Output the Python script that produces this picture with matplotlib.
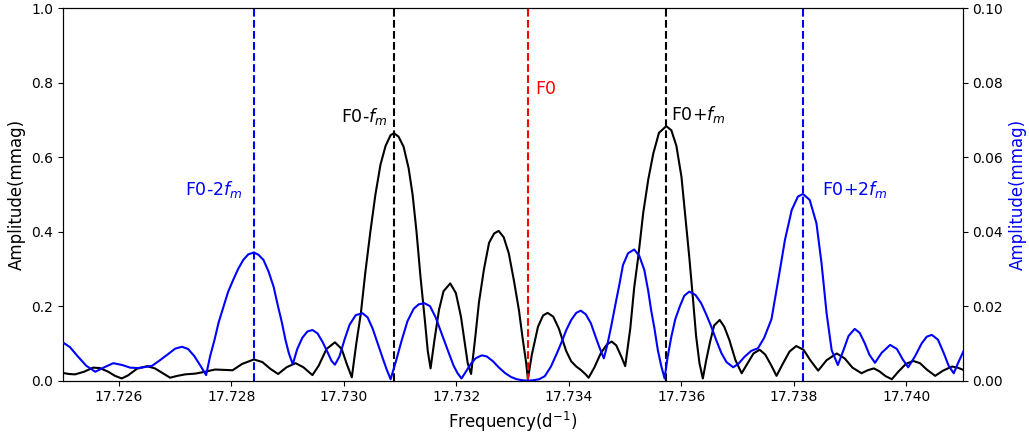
import matplotlib
matplotlib.use("Agg")
import matplotlib.pyplot as plt
from matplotlib.ticker import ScalarFormatter, MultipleLocator

# Black spectrum (left axis, mmag)
freq_black = [17.72500, 17.72511, 17.72522, 17.72538, 17.72554, 17.72566, 17.72581, 17.72593,
              17.72605, 17.72616, 17.72632, 17.72650, 17.72664, 17.72679, 17.72691, 17.72704,
              17.72718, 17.72736, 17.72753, 17.72771, 17.72786, 17.72802, 17.72819, 17.72840,
              17.72855, 17.72869, 17.72883, 17.72898, 17.72914, 17.72928, 17.72944, 17.72955,
              17.72969, 17.72984, 17.72996, 17.73005, 17.73014, 17.73022, 17.73030, 17.73038,
              17.73047, 17.73056, 17.73065, 17.73074, 17.73083, 17.73089, 17.73097, 17.73106,
              17.73115, 17.73122, 17.73129, 17.73136, 17.73144, 17.73149, 17.73154, 17.73161,
              17.73169, 17.73177, 17.73189, 17.73199, 17.73208, 17.73215, 17.73220, 17.73226,
              17.73233, 17.73240, 17.73249, 17.73258, 17.73267, 17.73275, 17.73284, 17.73293,
              17.73302, 17.73311, 17.73318, 17.73324, 17.73327, 17.73334, 17.73345, 17.73354,
              17.73362, 17.73372, 17.73382, 17.73395, 17.73404, 17.73413, 17.73421, 17.73429,
              17.73435, 17.73445, 17.73457, 17.73468, 17.73476, 17.73484, 17.73493, 17.73500,
              17.73509, 17.73516, 17.73523, 17.73532, 17.73541, 17.73550, 17.73560, 17.73573,
              17.73582, 17.73591, 17.73600, 17.73607, 17.73614, 17.73621, 17.73626, 17.73632,
              17.73638, 17.73644, 17.73651, 17.73658, 17.73668, 17.73676, 17.73685, 17.73696,
              17.73707, 17.73717, 17.73728, 17.73739, 17.73749, 17.73760, 17.73769, 17.73780,
              17.73792, 17.73804, 17.73817, 17.73829, 17.73843, 17.73858, 17.73876, 17.73890,
              17.73904, 17.73920, 17.73931, 17.73942, 17.73952, 17.73963, 17.73974, 17.73986,
              17.73999, 17.74012, 17.74024, 17.74036, 17.74051, 17.74065, 17.74081, 17.74091,
              17.74101]
amp_black = [0.021, 0.018, 0.017, 0.024, 0.035, 0.034, 0.024, 0.013,
             0.006, 0.014, 0.032, 0.039, 0.033, 0.019, 0.008, 0.013,
             0.017, 0.019, 0.024, 0.030, 0.029, 0.028, 0.045, 0.057,
             0.050, 0.032, 0.018, 0.036, 0.047, 0.036, 0.015, 0.040,
             0.085, 0.103, 0.085, 0.045, 0.009, 0.100, 0.180, 0.290,
             0.400, 0.500, 0.580, 0.630, 0.659, 0.664, 0.655, 0.628,
             0.570, 0.500, 0.400, 0.280, 0.160, 0.080, 0.033, 0.110,
             0.190, 0.240, 0.261, 0.235, 0.172, 0.100, 0.047, 0.018,
             0.110, 0.210, 0.300, 0.370, 0.395, 0.402, 0.385, 0.342,
             0.270, 0.190, 0.110, 0.047, 0.004, 0.070, 0.145, 0.175,
             0.182, 0.172, 0.140, 0.080, 0.052, 0.038, 0.029, 0.018,
             0.008, 0.035, 0.075, 0.098, 0.105, 0.095, 0.065, 0.039,
             0.140, 0.250, 0.330, 0.450, 0.540, 0.610, 0.665, 0.683,
             0.672, 0.630, 0.547, 0.440, 0.330, 0.210, 0.120, 0.047,
             0.006, 0.055, 0.105, 0.148, 0.163, 0.145, 0.110, 0.055,
             0.020, 0.045, 0.073, 0.083, 0.070, 0.040, 0.013, 0.045,
             0.078, 0.093, 0.083, 0.055, 0.027, 0.055, 0.073, 0.060,
             0.035, 0.020, 0.028, 0.033, 0.025, 0.012, 0.004, 0.025,
             0.045, 0.053, 0.047, 0.030, 0.013, 0.027, 0.038, 0.035,
             0.029]

# Blue spectrum (right axis, mmag)
freq_blue = [17.72500, 17.72513, 17.72527, 17.72542, 17.72558, 17.72574, 17.72590, 17.72606,
             17.72620, 17.72634, 17.72648, 17.72659, 17.72673, 17.72688, 17.72700, 17.72712,
             17.72723, 17.72734, 17.72745, 17.72755, 17.72762, 17.72770, 17.72777, 17.72786,
             17.72794, 17.72803, 17.72812, 17.72821, 17.72830, 17.72840, 17.72848, 17.72857,
             17.72866, 17.72875, 17.72882, 17.72890, 17.72896, 17.72902, 17.72909, 17.72917,
             17.72926, 17.72935, 17.72944, 17.72953, 17.72962, 17.72971, 17.72978, 17.72984,
             17.72992, 17.73001, 17.73010, 17.73021, 17.73033, 17.73042, 17.73051, 17.73060,
             17.73069, 17.73076, 17.73083, 17.73092, 17.73103, 17.73113, 17.73124, 17.73133,
             17.73143, 17.73153, 17.73163, 17.73174, 17.73185, 17.73195, 17.73202, 17.73209,
             17.73217, 17.73226, 17.73234, 17.73245, 17.73254, 17.73265, 17.73275, 17.73286,
             17.73297, 17.73307, 17.73318, 17.73327, 17.73336, 17.73347, 17.73357, 17.73368,
             17.73379, 17.73386, 17.73395, 17.73404, 17.73413, 17.73421, 17.73430, 17.73439,
             17.73448, 17.73454, 17.73462, 17.73468, 17.73475, 17.73482, 17.73490, 17.73496,
             17.73505, 17.73516, 17.73525, 17.73534, 17.73541, 17.73546, 17.73552, 17.73558,
             17.73564, 17.73570, 17.73575, 17.73582, 17.73589, 17.73597, 17.73605, 17.73614,
             17.73625, 17.73635, 17.73644, 17.73653, 17.73662, 17.73671, 17.73680, 17.73692,
             17.73701, 17.73712, 17.73724, 17.73736, 17.73747, 17.73760, 17.73772, 17.73784,
             17.73796, 17.73807, 17.73816, 17.73828, 17.73840, 17.73849, 17.73858, 17.73867,
             17.73878, 17.73888, 17.73897, 17.73908, 17.73917, 17.73926, 17.73934, 17.73944,
             17.73956, 17.73971, 17.73983, 17.73993, 17.74003, 17.74015, 17.74027, 17.74036,
             17.74045, 17.74056, 17.74066, 17.74075, 17.74084, 17.74091, 17.74101]
amp_blue = [0.0103, 0.0090, 0.0065, 0.0040, 0.0024, 0.0036, 0.0047, 0.0042,
            0.0035, 0.0034, 0.0037, 0.0040, 0.0055, 0.0072, 0.0086, 0.0091,
            0.0085, 0.0066, 0.0040, 0.0015, 0.0065, 0.0110, 0.0155, 0.0199,
            0.0238, 0.0270, 0.0300, 0.0324, 0.0339, 0.0344, 0.0338, 0.0324,
            0.0293, 0.0252, 0.0205, 0.0154, 0.0110, 0.0074, 0.0044, 0.0085,
            0.0115, 0.0132, 0.0136, 0.0127, 0.0104, 0.0076, 0.0053, 0.0043,
            0.0065, 0.0110, 0.0150, 0.0176, 0.0181, 0.0170, 0.0140, 0.0100,
            0.0060, 0.0030, 0.0004, 0.0050, 0.0110, 0.0160, 0.0193, 0.0205,
            0.0208, 0.0200, 0.0170, 0.0125, 0.0080, 0.0040, 0.0020, 0.0006,
            0.0025, 0.0046, 0.0060, 0.0068, 0.0065, 0.0052, 0.0036, 0.0021,
            0.0010, 0.0004, 0.0001, 0.0000, 0.0001, 0.0004, 0.0012, 0.0038,
            0.0075, 0.0100, 0.0135, 0.0163, 0.0182, 0.0188, 0.0178, 0.0154,
            0.0115, 0.0090, 0.0060, 0.0095, 0.0145, 0.0200, 0.0261, 0.0310,
            0.0342, 0.0352, 0.0335, 0.0297, 0.0240, 0.0190, 0.0140, 0.0082,
            0.0040, 0.0006, 0.0060, 0.0118, 0.0165, 0.0199, 0.0228, 0.0239,
            0.0230, 0.0208, 0.0178, 0.0145, 0.0108, 0.0074, 0.0050, 0.0036,
            0.0045, 0.0064, 0.0080, 0.0087, 0.0115, 0.0165, 0.0270, 0.0378,
            0.0458, 0.0494, 0.0501, 0.0485, 0.0422, 0.0315, 0.0181, 0.0082,
            0.0042, 0.0082, 0.0120, 0.0139, 0.0128, 0.0100, 0.0070, 0.0048,
            0.0075, 0.0096, 0.0085, 0.0058, 0.0036, 0.0065, 0.0100, 0.0118,
            0.0123, 0.0110, 0.0075, 0.0040, 0.0020, 0.0045, 0.0078]

# Marked frequencies
marker_freqs = [17.72840, 17.73089, 17.73327, 17.73573, 17.73816]
marker_labels = ["F0-2$f_m$", "F0-$f_m$", "F0", "F0+$f_m$", "F0+2$f_m$"]
marker_colors = ["blue", "black", "red", "black", "blue"]

fig = plt.figure(figsize=(10.29, 4.33), dpi=100)
ax1 = fig.add_axes([0.0609, 0.1208, 0.8747, 0.8607])
ax2 = ax1.twinx()

ax1.plot(freq_black, amp_black, color="black", lw=1.5, zorder=3)
ax2.plot(freq_blue, amp_blue, color="blue", lw=1.5, zorder=3)

for f, c in zip(marker_freqs, marker_colors):
    ax1.axvline(f, color=c, ls="--", lw=1.5, zorder=4)

# annotations
fs = 12.5
ax1.text(marker_freqs[0] - 0.00020, 0.514, marker_labels[0], color="blue", fontsize=fs,
         ha="right", va="center")
ax1.text(marker_freqs[1] - 0.00011, 0.708, marker_labels[1], color="black", fontsize=fs,
         ha="right", va="center")
ax1.text(marker_freqs[2] + 0.00013, 0.782, marker_labels[2], color="red", fontsize=fs,
         ha="left", va="center")
ax1.text(marker_freqs[3] + 0.00008, 0.713, marker_labels[3], color="black", fontsize=fs,
         ha="left", va="center")
ax1.text(marker_freqs[4] + 0.00033, 0.514, marker_labels[4], color="blue", fontsize=fs,
         ha="left", va="center")

ax1.set_xlim(17.725, 17.741)
ax1.set_ylim(0, 1.0)
ax2.set_ylim(0, 0.10)
ax1.xaxis.set_major_locator(MultipleLocator(0.002))
fmt = ScalarFormatter(useOffset=False)
ax1.xaxis.set_major_formatter(fmt)
ax1.yaxis.set_major_locator(MultipleLocator(0.2))
ax2.yaxis.set_major_locator(MultipleLocator(0.02))
ax2.yaxis.set_major_formatter(plt.FormatStrFormatter("%.2f"))

ax1.tick_params(labelsize=10)
ax2.tick_params(labelsize=10)
ax1.set_xlabel("Frequency(d$^{-1}$)", fontsize=12)
ax1.set_ylabel("Amplitude(mmag)", fontsize=12)
ax2.set_ylabel("Amplitude(mmag)", fontsize=12, color="blue")

fig.savefig("out.png", dpi=100)
